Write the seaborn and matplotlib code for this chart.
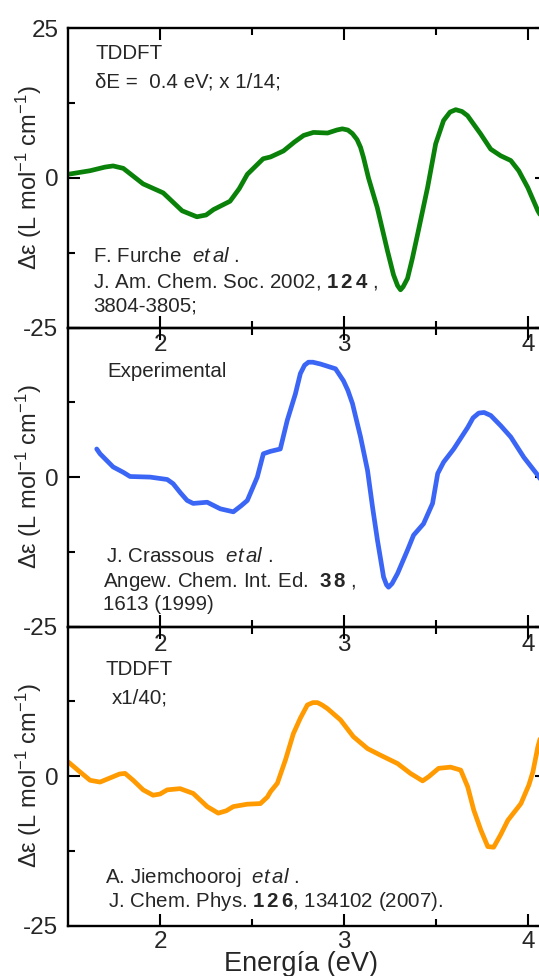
import matplotlib
matplotlib.use("Agg")
import matplotlib.pyplot as plt
import seaborn as sns
import pandas as pd

# ---- data ----
furche_x = [1.50, 1.62, 1.70, 1.745, 1.80, 1.908, 2.017, 2.12, 2.20, 2.25, 2.29, 2.38, 2.43,
            2.474, 2.56, 2.60, 2.67, 2.73, 2.78, 2.833, 2.91, 2.96, 2.99, 3.02, 3.045, 3.07,
            3.089, 3.105, 3.132, 3.18, 3.236, 3.268, 3.29, 3.306, 3.32, 3.344, 3.37, 3.399,
            3.453, 3.497, 3.54, 3.575, 3.606, 3.64, 3.67, 3.74, 3.796, 3.85, 3.905, 3.948,
            3.997, 4.052, 4.10]
furche_y = [0.6, 1.2, 1.8, 2.0, 1.6, -1.0, -2.5, -5.5, -6.5, -6.2, -5.3, -3.9, -1.8,
            0.6, 3.2, 3.5, 4.5, 6.0, 7.1, 7.6, 7.5, 8.0, 8.2, 8.0, 7.4, 6.4,
            5.1, 3.4, 0.0, -5.0, -12.3, -16.2, -18.0, -18.7, -18.2, -16.8, -13.5, -9.4,
            -1.6, 5.7, 9.6, 11.0, 11.4, 11.1, 10.4, 7.4, 4.8, 3.7, 2.9, 1.2,
            -1.6, -5.5, -8.0]

exp_x = [1.656, 1.674, 1.745, 1.80, 1.837, 1.946, 2.039, 2.071, 2.11, 2.147, 2.18, 2.256,
         2.327, 2.398, 2.44, 2.474, 2.528, 2.561, 2.599, 2.653, 2.691, 2.735, 2.762, 2.785,
         2.806, 2.83, 2.871, 2.953, 2.996, 3.02, 3.045, 3.089, 3.127, 3.154, 3.181, 3.214,
         3.23, 3.241, 3.26, 3.29, 3.344, 3.377, 3.431, 3.48, 3.508, 3.54, 3.595, 3.671,
         3.70, 3.731, 3.76, 3.796, 3.85, 3.905, 3.976, 4.052, 4.10]
exp_y = [4.7, 3.9, 1.7, 0.8, 0.1, 0.0, -0.4, -1.1, -2.6, -3.9, -4.4, -4.2,
         -5.3, -5.8, -4.8, -3.9, 0.0, 3.9, 4.3, 4.7, 9.5, 13.9, 17.3, 18.7,
         19.2, 19.2, 18.9, 18.1, 16.1, 14.5, 12.3, 6.7, 1.1, -5.0, -10.6, -16.7,
         -18.0, -18.4, -17.8, -16.1, -12.2, -9.7, -7.8, -4.4, 0.6, 2.5, 4.7, 8.3,
         9.9, 10.7, 10.8, 10.3, 8.6, 6.7, 3.3, 0.3, -2.0]

jiem_x = [1.50, 1.565, 1.62, 1.674, 1.745, 1.78, 1.81, 1.854, 1.908, 1.962, 2.0, 2.039, 2.109,
          2.18, 2.256, 2.316, 2.36, 2.398, 2.474, 2.545, 2.583, 2.60, 2.637, 2.681, 2.724,
          2.762, 2.80, 2.83, 2.855, 2.88, 2.909, 2.98, 3.05, 3.127, 3.197, 3.29, 3.36, 3.426,
          3.459, 3.513, 3.578, 3.633, 3.671, 3.704, 3.742, 3.78, 3.812, 3.85, 3.889, 3.96,
          4.003, 4.025, 4.052, 4.08]
jiem_y = [2.4, 0.7, -0.7, -1.0, -0.1, 0.35, 0.45, -0.7, -2.3, -3.2, -3.0, -2.3, -2.1,
          -2.9, -5.1, -6.2, -5.8, -5.1, -4.7, -4.6, -3.5, -2.6, -1.2, 2.7, 7.1,
          9.7, 11.9, 12.3, 12.3, 11.9, 11.3, 9.4, 6.6, 4.6, 3.5, 2.1, 0.45, -0.8,
          -0.1, 1.3, 1.5, 1.0, -1.8, -5.7, -9.0, -11.8, -11.9, -9.8, -7.4, -4.6,
          -1.5, 0.7, 4.9, 8.0]

x_major = [2, 3, 4]
x_minor = [2.5, 3.5]
y_major = [-25, 0, 25]
y_minor = [-12.5, 12.5]

colors = ["#0a820a", "#3b66f5", "#ff9a00"]

# ---- style ----
sns.set_style("ticks")
plt.rcParams["font.family"] = ["Liberation Sans", "DejaVu Sans"]
plt.rcParams["mathtext.fontset"] = "custom"
plt.rcParams["mathtext.rm"] = "Liberation Sans"
plt.rcParams["mathtext.it"] = "Liberation Sans:italic"
plt.rcParams["mathtext.bf"] = "Liberation Sans:bold"
plt.rcParams["axes.unicode_minus"] = False

W, H = 539, 976
fig = plt.figure(figsize=(W / 100, H / 100), dpi=100)
fig.patch.set_facecolor("white")

left = 68 / W
width = (546.7 - 68) / W
panels_px = [(28.3, 327.5), (327.5, 626.7), (626.7, 925.5)]

series = [(furche_x, furche_y), (exp_x, exp_y), (jiem_x, jiem_y)]
axes = []
for i, ((top, bot), (xs, ys)) in enumerate(zip(panels_px, series)):
    ax = fig.add_axes([left, 1 - bot / H, width, (bot - top) / H])
    ax.set_facecolor("none")
    df = pd.DataFrame({"E": xs, "de": ys})
    sns.lineplot(data=df, x="E", y="de", ax=ax, color=colors[i], lw=3.4,
                 sort=False, estimator=None, solid_joinstyle="round",
                 solid_capstyle="round")
    ax.set_xlim(1.5, 4.1)
    ax.set_ylim(-25, 25)
    ax.set_xticks(x_major)
    ax.set_xticks(x_minor, minor=True)
    ax.set_yticks(y_major)
    ax.set_yticks(y_minor, minor=True)
    ax.set_xticklabels([str(v) for v in x_major])
    if i == 0:
        ax.set_yticklabels([str(v) for v in y_major])
    else:
        ax.set_yticklabels([str(y_major[0]), str(y_major[1]), ""])
    ax.tick_params(which="both", direction="in", top=True, right=True,
                   width=1.5, color="black", labelsize=17.5)
    ax.tick_params(which="major", length=8.6)
    ax.tick_params(which="minor", length=5)
    ax.tick_params(axis="y", which="major", pad=7)
    ax.tick_params(axis="x", which="major", pad=4 if i == 2 else 5)
    for s in ax.spines.values():
        s.set_linewidth(1.7)
        s.set_color("black")
    ax.set_xlabel("")
    ax.set_ylabel("Δε (L mol$^{-1}$ cm$^{-1}$)", fontsize=17)
    ax.yaxis.set_label_coords(-0.05, 0.5)
    axes.append(ax)

fig.text(301 / W, 1 - 971 / H, "Energía (eV)", ha="center", va="baseline", fontsize=19.5)

def put(xp, yp, s, size=14.8):
    fig.text(xp / W, 1 - yp / H, s, ha="left", va="baseline", fontsize=size)

put(95, 59, "TDDFT")
put(95, 88, "δE =  0.4 eV; x 1/14;")
put(93, 262, r"F. Furche  $\mathit{et\,al}$ .")
put(93, 288, r"J. Am. Chem. Soc. 2002, $\mathbf{1\,2\,4}$ ,")
put(93, 312, "3804-3805;")

put(107, 377, "Experimental")
put(106, 562, r"J. Crassous  $\mathit{et\,al}$ .")
put(103, 587, r"Angew. Chem. Int. Ed.  $\mathbf{3\,8}$ ,")
put(103, 610, "1613 (1999)")

put(105, 675, "TDDFT")
put(112, 703, "x1/40;")
put(105, 883, r"A. Jiemchooroj  $\mathit{et\,al}$ .")
put(108, 907, r"J. Chem. Phys. $\mathbf{1\,2\,6}$, 134102 (2007).")

fig.savefig("out.png", dpi=100)
